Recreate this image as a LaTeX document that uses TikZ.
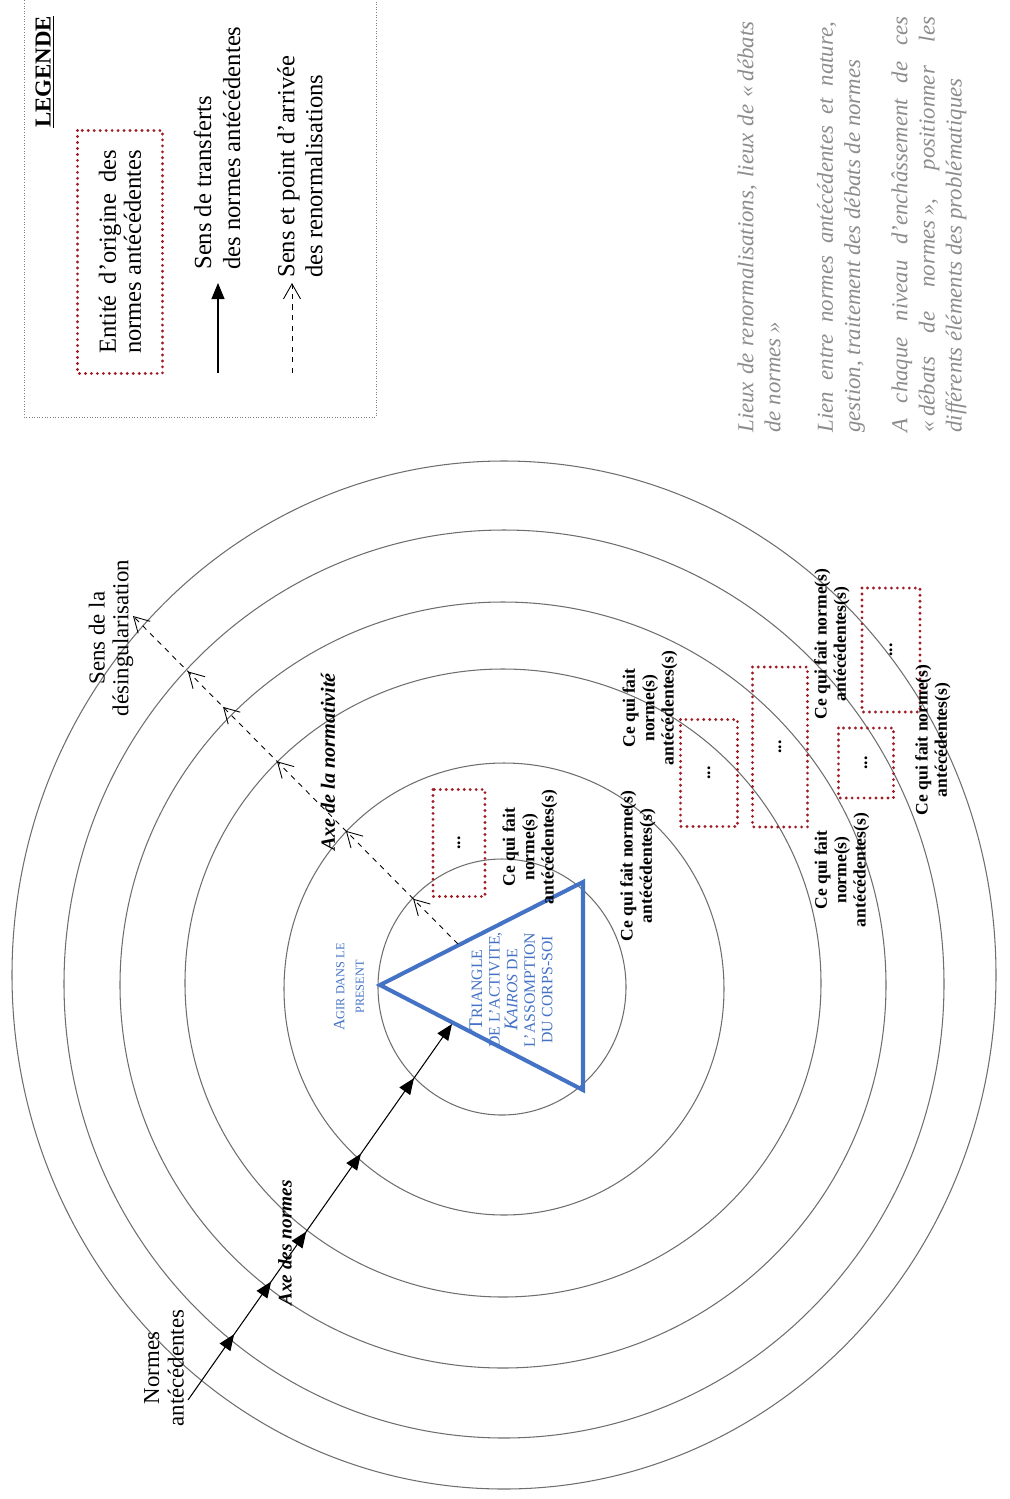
\documentclass[tikz,border=0pt]{standalone}
\usepackage{fontspec}
\setmainfont{Liberation Serif}
\usetikzlibrary{arrows.meta,decorations.markings}
\definecolor{normred}{RGB}{160,28,36}
\definecolor{triblue}{RGB}{68,114,196}
\definecolor{notegray}{RGB}{140,140,140}
\definecolor{ringgray}{RGB}{110,110,110}
\tikzstyle{ringline} = [draw=ringgray,line width=0.6pt]
\tikzstyle{sourcebox} = [draw=normred,line width=1.8pt,dash pattern=on 0pt off 3.4pt,line cap=round,rotate=90,inner sep=0pt,font=\fontsize{10}{11}\selectfont\bfseries]
\tikzstyle{vtext} = [rotate=90,inner sep=0pt,align=center]
\tikzstyle{normlabel} = [vtext,font=\fontsize{10}{11}\selectfont\bfseries]
\tikzstyle{note} = [vtext,anchor=west,align=left,text=notegray,font=\fontsize{13}{15.4}\selectfont\itshape]
\tikzstyle{normtip} = [-{Triangle[length=0.32cm,width=0.26cm]}]
\tikzstyle{renormtip} = [-{Straight Barb[length=0.3cm,width=0.34cm]}]
\tikzstyle{normaxis} = [line width=0.6pt,normtip,postaction={decorate},
  decoration={markings,
    mark=at position 0.175 with {\arrow{Triangle[length=0.32cm,width=0.26cm]}},
    mark=at position 0.315 with {\arrow{Triangle[length=0.32cm,width=0.26cm]}},
    mark=at position 0.448 with {\arrow{Triangle[length=0.32cm,width=0.26cm]}},
    mark=at position 0.655 with {\arrow{Triangle[length=0.32cm,width=0.26cm]}},
    mark=at position 0.856 with {\arrow{Triangle[length=0.32cm,width=0.26cm]}}}]
\tikzstyle{renormaxis} = [line width=0.5pt,dashed,renormtip,postaction={decorate},
  decoration={markings,
    mark=at position 0.138 with {\arrow{Straight Barb[length=0.3cm,width=0.34cm]}},
    mark=at position 0.345 with {\arrow{Straight Barb[length=0.3cm,width=0.34cm]}},
    mark=at position 0.557 with {\arrow{Straight Barb[length=0.3cm,width=0.34cm]}},
    mark=at position 0.723 with {\arrow{Straight Barb[length=0.3cm,width=0.34cm]}},
    mark=at position 0.831 with {\arrow{Straight Barb[length=0.3cm,width=0.34cm]}}}]

\begin{document}
\begin{tikzpicture}[x=0.02cm,y=-0.02cm,font=\fontsize{13}{14}\selectfont]
  \useasboundingbox (0,0) rectangle (1009,1499);
  \draw[gray,densely dotted,line width=0.5pt] (24,-5) rectangle (376,417);
  \node[vtext,font=\fontsize{13}{14}\selectfont\bfseries] (legende) at (45,72) {\underline{LEGENDE}};
  \node[sourcebox,minimum width=4.86cm,minimum height=1.7cm,align=center,font=\fontsize{14}{14.2}\selectfont] (legsource) at (120,252)
    {\makebox[4.08cm][s]{Entité d'origine des}\\\makebox[4.08cm][s]{normes antécédentes}};
  \coordinate (legnormA) at (218,373);
  \coordinate (legnormB) at (218,283);
  \draw[line width=0.6pt,normtip] (legnormA) -- (legnormB);
  \node[vtext,anchor=west,align=left,font=\fontsize{14}{16.5}\selectfont] (legnorm) at (217,270) {Sens de transferts\\des normes antécédentes};
  \coordinate (legrenormA) at (292,373);
  \coordinate (legrenormB) at (292,283);
  \draw[line width=0.5pt,dashed,renormtip] (legrenormA) -- (legrenormB);
  \node[vtext,anchor=west,align=left,font=\fontsize{14}{16}\selectfont] (legrenorm) at (300,278) {Sens et point d'arrivée\\des renormalisations};

  \node[note] (note1) at (759,433) {\makebox[8.22cm][s]{Lieux de renormalisations, lieux de «\kern0.2em débats}\\de normes\kern0.2em»};
  \node[note] (note2) at (841,433) {\makebox[8.22cm][s]{Lien entre normes antécédentes et nature,}\\gestion, traitement des débats de normes};
  \node[note] (note3) at (929,433) {\makebox[8.32cm][s]{A chaque niveau d'enchâssement de ces}\\\makebox[8.32cm][s]{«\kern0.2em débats de normes\kern0.2em», positionner les}\\différents éléments des problématiques};

  \draw[ringline] (502,987) ellipse [x radius=124,y radius=128];
  \draw[ringline] (504,989) ellipse [x radius=220,y radius=226];
  \draw[ringline] (503,983) ellipse [x radius=318,y radius=314];
  \draw[ringline] (503,985) ellipse [x radius=383,y radius=383];
  \draw[ringline] (504,984) ellipse [x radius=440,y radius=454];
  \draw[ringline] (504,975) ellipse [x radius=492,y radius=514];

  \draw[triblue,line width=2.3pt] (380,985) -- (583,882) -- (583,1090) -- cycle;
  \node[vtext,text=triblue,font=\fontsize{9}{10}\selectfont] (triangle) at (511,990)
    {{\fontsize{11}{10}\selectfont T}RIANGLE\\DE L'ACTIVITE,\\{\itshape{\fontsize{11}{10}\selectfont K}AIROS} DE\\L'ASSOMPTION\\DU CORPS-SOI};
  \node[vtext,text=triblue,font=\fontsize{7}{11}\selectfont] (agir) at (349,987) {{\fontsize{9}{11}\selectfont A}GIR DANS LE\\PRESENT};

  \node[vtext] (normes) at (164,1368) {Normes\\antécédentes};
  \node[vtext,font=\fontsize{11}{12}\selectfont\bfseries\itshape] (axenormes) at (285,1243) {Axe des normes};
  \coordinate (normstart) at (188,1400);
  \coordinate (normend) at (452,1024);
  \draw[normaxis] (normstart) -- (normend);

  \node[vtext,font=\fontsize{13}{13.5}\selectfont] (desing) at (111,638) {Sens de la\\désingularisation};
  \node[vtext,font=\fontsize{11.5}{12}\selectfont\bfseries\itshape] (axenormativite) at (328,762) {Axe de la normativité};
  \coordinate (renormstart) at (458,944);
  \coordinate (renormend) at (133,616);
  \draw[renormaxis] (renormstart) -- (renormend);

  \node[sourcebox,minimum width=2.14cm,minimum height=1.04cm] (srcA) at (459,843) {...};
  \node[sourcebox,minimum width=2.14cm,minimum height=1.14cm] (srcB) at (709,773) {...};
  \node[sourcebox,minimum width=3.2cm,minimum height=1.1cm] (srcC) at (780,747) {...};
  \node[sourcebox,minimum width=1.4cm,minimum height=1.1cm] (srcD) at (866,763) {...};
  \node[sourcebox,minimum width=2.48cm,minimum height=1.16cm] (srcE) at (891,650) {...};

  \node[normlabel] (lblA) at (530,847) {Ce qui fait\\norme(s)\\antécédentes(s)};
  \node[normlabel] (lblB) at (638,866) {Ce qui fait norme(s)\\antécédentes(s)};
  \node[normlabel] (lblC) at (650,708) {Ce qui fait\\norme(s)\\antécédentes(s)};
  \node[normlabel] (lblD) at (832,644) {Ce qui fait norme(s)\\antécédentes(s)};
  \node[normlabel] (lblE) at (933,740) {Ce qui fait norme(s)\\antécédentes(s)};
  \node[normlabel] (lblF) at (842,870) {Ce qui fait\\norme(s)\\antécédentes(s)};
\end{tikzpicture}
\end{document}
